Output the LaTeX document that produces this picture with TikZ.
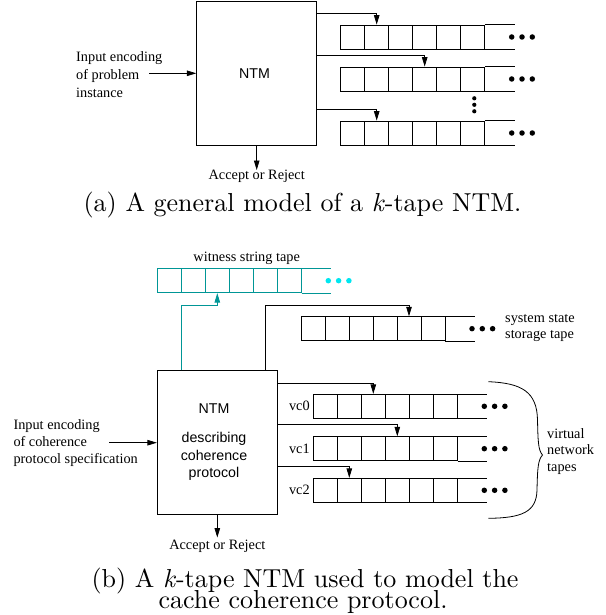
\documentclass[tikz,border=0pt]{standalone}
\usepackage{fontspec}
\setmainfont{Liberation Serif}
\setsansfont{Liberation Sans}
\newfontfamily\capfont{lmroman10-regular.otf}[ItalicFont=lmroman10-italic.otf]
\usetikzlibrary{arrows.meta}
\definecolor{tealline}{RGB}{0,150,150}
\definecolor{cyandot}{RGB}{0,230,240}
\tikzset{
  every node/.style={inner sep=0pt},
  lab/.style={font=\fontsize{14.3}{17}\selectfont, align=left},
  ntmtext/.style={font=\sffamily\fontsize{14.2}{17.6}\selectfont, align=center},
  captext/.style={font=\capfont\fontsize{26}{30}\selectfont, anchor=base},
  cell/.style={draw, rectangle, minimum width=24pt, minimum height=24pt, line width=0.8pt},
  ntmbox/.style={draw, rectangle, minimum width=120pt, minimum height=144pt, line width=0.8pt},
  arr/.style={-{Triangle[length=9.5pt,width=5.5pt]}, line width=0.8pt},
  dotn/.style={circle, fill, minimum size=5.5pt},
  vdotn/.style={circle, fill, minimum size=4.2pt},
  tline/.style={line width=0.8pt},
}
\newcommand{\tapeat}[5]{% #1 name, #2 left x, #3 top y, #4 line colour, #5 dot colour
  \foreach \i in {1,...,6}{
    \node[cell, draw=#4] (#1c\i) at ({#2+(\i-0.5)*24},{#3+12}) {};
  }
  \draw[tline, #4] (#1c6.north east) -- ++(29.5,0) coordinate (#1end);
  \draw[tline, #4] (#1c6.south east) -- ++(29.5,0);
  \node[dotn, fill=#5] (#1d1) at ({#2+171},{#3+12}) {};
  \node[dotn, fill=#5] (#1d2) at ({#2+181.3},{#3+12}) {};
  \node[dotn, fill=#5] (#1d3) at ({#2+191.6},{#3+12}) {};
}
\begin{document}
\begin{tikzpicture}[x=1pt,y=-1pt]
\useasboundingbox (0,0) rectangle (605,615);

% ---------------- (a) ----------------
\node[ntmbox] (ntmA) at (256.7,73) {};
\node[ntmtext] (ntmAt) at (254.5,73.7) {NTM};

\tapeat{ta}{340.7}{25}{black}{black}
\tapeat{tb}{340.7}{67}{black}{black}
\tapeat{tc}{340.7}{121}{black}{black}

\node[vdotn] (vd1) at (474.3,98.3) {};
\node[vdotn] (vd2) at (474.3,104.8) {};
\node[vdotn] (vd3) at (474.3,111.3) {};

\coordinate (ha) at (0,13.7);
\coordinate (hb) at (0,55.7);
\coordinate (hc) at (0,109);
\draw[arr] (ntmA.east |- ha) -| (tac2.north);
\draw[arr] (ntmA.east |- hb) -| (tbc4.north);
\draw[arr] (ntmA.east |- hc) -| (tcc2.north);

\node[lab, anchor=west, font=\fontsize{14.3}{17.8}\selectfont] (inAl) at (76,74.5) {Input encoding\\of problem\\instance};
\coordinate (inAs) at (149,73.3);
\draw[arr] (inAs) -- (ntmA.west |- inAs);

\node[lab] (accA) at (256.7,176.5) {Accept or Reject};
\draw[arr] (ntmA.south) -- (accA.north);

\node[captext] (capA) at (302.5,211) {(a) A general model of a \textit{k}-tape NTM.};

% ---------------- (b) ----------------
\node[ntmbox, minimum height=143.6pt] (ntmB) at (217.3,442.5) {};
\node[ntmtext] (ntmBt) at (214,408.3) {NTM};
\node[ntmtext] (ntmBd) at (214,456.7) {describing\\coherence\\protocol};

\node[lab] (wl) at (246.7,258.3) {witness string tape};
\tapeat{w}{157.3}{268.7}{tealline}{cyandot}

\tapeat{s}{301}{316.7}{black}{black}
\node[lab, anchor=west, font=\fontsize{14.3}{16}\selectfont] (sl) at (505,328) {system state\\storage tape};

\coordinate (wb) at (181.7,305);
\draw[arr, color=tealline] (ntmB.north -| wb) -- (wb) -| (wc3.south);
\coordinate (sb) at (265.7,305.7);
\draw[arr] (ntmB.north -| sb) -- (sb) -| (sc5.north);

\tapeat{vza}{313.3}{394.3}{black}{black}
\tapeat{vzb}{313.3}{436.7}{black}{black}
\tapeat{vzc}{313.3}{478.3}{black}{black}
\node[lab, anchor=east] (vc0l) at ([xshift=-3pt]vzac1.west) {vc0};
\node[lab, anchor=east] (vc1l) at ([xshift=-3pt]vzbc1.west) {vc1};
\node[lab, anchor=east] (vc2l) at ([xshift=-3pt]vzcc1.west) {vc2};

\coordinate (hva) at (0,383.3);
\coordinate (hvb) at (0,424);
\coordinate (hvc) at (0,466.7);
\draw[arr] (ntmB.east |- hva) -| (vzac3.north);
\draw[arr] (ntmB.east |- hvb) -| (vzbc4.north);
\draw[arr] (ntmB.east |- hvc) -| (vzcc2.north);

\draw[tline] (488.3,381.7) .. controls (522,383) and (537,392) .. (537.5,420)
  .. controls (538,440) and (538,450) .. (542.5,455)
  .. controls (538,460) and (537.5,468) .. (537,490)
  .. controls (536.5,512) and (522,518) .. (488.3,518.3);
\node[lab, anchor=west, font=\fontsize{14.3}{16.4}\selectfont] (vnl) at (547,451.5) {virtual\\network\\tapes};

\node[lab, anchor=west, font=\fontsize{14.3}{16.7}\selectfont] (inBl) at (13.3,443) {Input encoding\\of coherence\\protocol specification};
\coordinate (inBs) at (109.3,442.7);
\draw[arr] (inBs) -- (ntmB.west |- inBs);

\node[lab] (accB) at (217.3,546.5) {Accept or Reject};
\draw[arr, shorten >=2.5pt] (ntmB.south) -- (accB.north);

\node[captext] (capB1) at (305,587) {(b) A \textit{k}-tape NTM used to model the};
\node[captext] (capB2) at (303,608.5) {cache coherence protocol.};
\end{tikzpicture}
\end{document}
